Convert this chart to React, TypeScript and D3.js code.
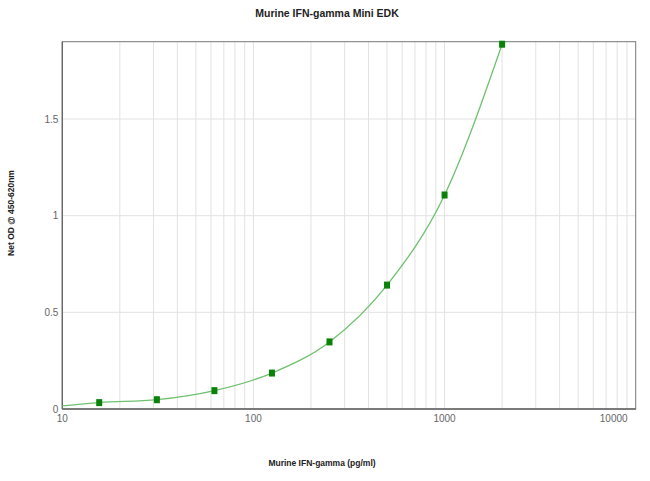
import React from "react";
import * as d3 from "d3";

const concentrations = [15.6, 31.25, 62.5, 125, 250, 500, 1000, 2000];
const netOD = [0.033, 0.048, 0.095, 0.186, 0.347, 0.641, 1.107, 1.887];
const curveStartX = [10];
const curveStartY = [0.016];
const xTickValues = [10, 100, 1000, 10000];
const xTickLabels = ["10", "100", "1000", "10000"];
const yTickValues = [0, 0.5, 1, 1.5];
const yTickLabels = ["0", "0.5", "1", "1.5"];

const W = 650;
const H = 481;
const M = { left: 62.3, right: 635.7, top: 41.7, bottom: 409 };

export default function App() {
  const x = d3.scaleLog().domain([10, 10000]).range([M.left, M.right]);
  const y = d3.scaleLinear().domain([0, 1.9]).range([M.bottom, M.top]);

  const minorX: number[] = [];
  for (const dec of [10, 100, 1000]) {
    for (let k = 1; k <= 9; k++) minorX.push(dec * k);
  }
  minorX.push(10000);

  const curvePts: [number, number][] = [
    ...curveStartX.map((v, i) => [v, curveStartY[i]] as [number, number]),
    ...concentrations.map((c, i) => [c, netOD[i]] as [number, number]),
  ];
  const line = d3
    .line<[number, number]>()
    .x((d) => x(d[0]))
    .y((d) => y(d[1]))
    .curve(d3.curveMonotoneX);

  const font = "'Liberation Sans', Arial, sans-serif";

  return (
    <svg width={W} height={H} style={{ position: "absolute", left: 0, top: 0, background: "#fff" }}>
      <rect x={0} y={0} width={W} height={H} fill="#fff" />
      <text x={327} y={17} textAnchor="middle" fontFamily={font} fontWeight="bold" fontSize={10.5} fill="#222">
        Murine IFN-gamma Mini EDK
      </text>
      {/* grid */}
      {minorX
        .filter((v) => v > 10 && v < 10000)
        .map((v) => (
          <line key={"gx" + v} x1={x(v)} x2={x(v)} y1={M.top} y2={M.bottom} stroke="#e2e2e2" strokeWidth={1} />
        ))}
      {yTickValues
        .filter((v) => v > 0)
        .map((v) => (
          <line key={"gy" + v} x1={M.left} x2={M.right} y1={y(v)} y2={y(v)} stroke="#e2e2e2" strokeWidth={1} />
        ))}
      {/* frame */}
      <rect x={M.left} y={M.top} width={M.right - M.left} height={M.bottom - M.top} fill="none" stroke="#777" strokeWidth={1} />
      <line x1={M.left} x2={M.right} y1={M.bottom} y2={M.bottom} stroke="#666" strokeWidth={1.3} />
      <line x1={M.left} x2={M.left} y1={M.top} y2={M.bottom} stroke="#666" strokeWidth={1.3} />
      {/* curve */}
      <path d={line(curvePts) || ""} fill="none" stroke="#6fc06f" strokeWidth={1.3} />
      {/* markers */}
      {concentrations.map((c, i) => (
        <rect key={"m" + i} x={x(c) - 3} y={y(netOD[i]) - 3.5} width={6} height={7} fill="#0a820a" />
      ))}
      {/* y ticks */}
      {yTickValues.map((v, i) => (
        <text key={"yt" + v} x={M.left - 4} y={y(v) + (v === 0 ? 4 : 3.5)} textAnchor="end" fontFamily={font} fontSize={10} fill="#666">
          {yTickLabels[i]}
        </text>
      ))}
      {/* x ticks */}
      {xTickValues.map((v, i) => (
        <text
          key={"xt" + v}
          x={i === xTickValues.length - 1 ? M.right - 22 : x(v)}
          y={M.bottom + 13}
          textAnchor="middle"
          fontFamily={font}
          fontSize={10}
          fill="#666"
        >
          {xTickLabels[i]}
        </text>
      ))}
      <text x={322} y={466} textAnchor="middle" fontFamily={font} fontWeight="bold" fontSize={8.5} fill="#222">
        Murine IFN-gamma (pg/ml)
      </text>
      <text
        transform={`translate(14, ${213}) rotate(-90)`}
        textAnchor="middle"
        fontFamily={font}
        fontWeight="bold"
        fontSize={8.5}
        fill="#222"
      >
        Net OD @ 450-620nm
      </text>
    </svg>
  );
}
